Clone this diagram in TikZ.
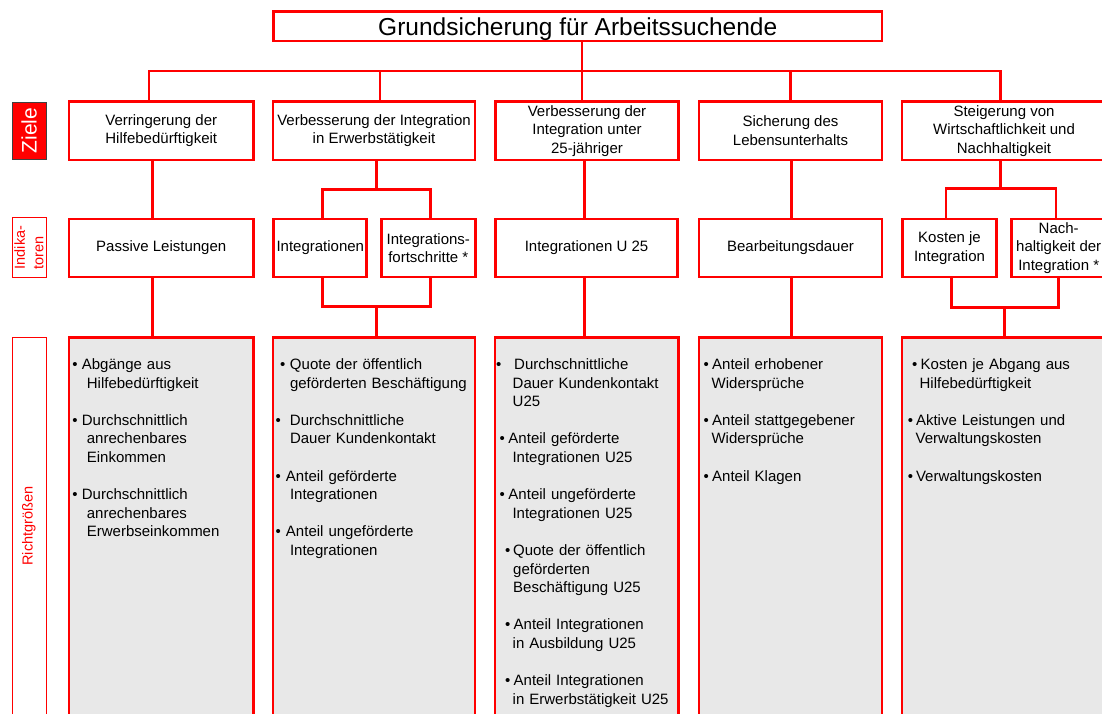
\documentclass[tikz,border=0pt]{standalone}
\usepackage{fontspec}
\setmainfont{Liberation Sans}

\definecolor{rggray}{RGB}{232,232,232}

\newcommand{\boxfont}{\fontsize{15}{18.6}\selectfont}
\newcommand{\listfont}{\boxfont\setlength{\parskip}{18.6pt}}
\newcommand{\titlefont}{\fontsize{24.5}{29}\selectfont}
\newcommand{\sidefont}{\fontsize{14.5}{18.5}\selectfont}
\newcommand{\zielefont}{\fontsize{21}{24}\selectfont}

% bullet item: [bullet shift][bullet box][hang] {text}
\NewDocumentCommand{\rg}{O{0pt} O{9pt} o m}{%
  \par\noindent
  \IfNoValueTF{#3}{\hangindent=\dimexpr#1+#2\relax}{\hangindent=#3\relax}%
  \hangafter=1
  \strut\hspace*{#1}\makebox[#2][l]{\textbullet}#4\par}

\tikzset{
  goal/.style={draw=red, line width=2.8pt, fill=white, inner sep=0pt,
    align=center, font=\boxfont, minimum height=58.5pt},
  indic/.style={goal, minimum height=58pt},
  rgbox/.style={draw=red, line width=2.8pt, fill=rggray, inner sep=0pt,
    minimum height=392.5pt},
  rglist/.style={anchor=north west, inner sep=0pt, text width=200pt,
    font=\listfont},
  conn/.style={draw=red, line width=2.8pt},
  sidebox/.style={draw=red, line width=1pt, fill=white, text=red, rotate=90,
    minimum height=34pt, inner sep=0pt, align=left, font=\sidefont}
}

\begin{document}
\begin{tikzpicture}[x=1pt,y=-1pt]
	\useasboundingbox (0,0) rectangle (1102,713);
	\fill[white] (0,0) rectangle (1102,713);
	\clip (0,0) rectangle (1102,713);

	% Titel
	\node[draw=red, line width=2.8pt, fill=white, inner sep=0pt, minimum width=608.5pt,
		minimum height=29.5pt, text depth=0pt, font=\titlefont] (title) at (577.75,26.25)
		{Grundsicherung für Arbeitssuchende};

	% Zeilenbeschriftung
	\node[draw=black!75, line width=0.8pt, fill=red, text=white, rotate=90, inner sep=0pt,
		minimum width=57pt, minimum height=34pt, font=\zielefont] (lz) at (29,130.5) {Ziele};
	\node[sidebox, minimum width=60pt] (li) at (29,247.5) {Indika-\\toren};
	\node[sidebox, minimum width=378pt] (lr) at (29,526) {Richtgrößen};

	% Ziele
	\node[goal, minimum width=184.5pt] (z1) at (161.25,130.75) {Verringerung der\\Hilfebedürftigkeit};
	\node[goal, minimum width=202pt] (z2) at (374,130.75) {Verbesserung der Integration\\in Erwerbstätigkeit};
	\node[goal, minimum width=183pt] (z3) at (587,130.75) {Verbesserung der\\Integration unter\\25-jähriger};
	\node[goal, minimum width=183pt] (z4) at (790.5,130.75) {Sicherung des\\Lebensunterhalts};
	\node[goal, minimum width=204pt] (z5) at (1004,130.75) {Steigerung von\\Wirtschaftlichkeit und\\Nachhaltigkeit};

	% Indikatoren
	\node[indic, minimum width=184.5pt] (i1) at (161.25,248) {Passive Leistungen};
	\node[indic, minimum width=93pt] (i2a) at (320.3,248) {Integrationen};
	\node[indic, minimum width=93.7pt] (i2b) at (428.3,248) {Integrations-\\fortschritte *};
	\node[indic, minimum width=182pt] (i3) at (586.5,248) {Integrationen U 25};
	\node[indic, minimum width=183pt] (i4) at (790.5,248) {Bearbeitungsdauer};
	\node[indic, minimum width=94.6pt] (i5a) at (949.5,248) {Kosten je\\Integration};
	\node[indic, minimum width=94.5pt] (i5b) at (1058.7,248) {Nach-\\haltigkeit der\\Integration *};

	% Richtgroessen
	\node[rgbox, minimum width=184.5pt] (r1) at (161.25,533.75) {};
	\node[rgbox, minimum width=202pt] (r2) at (374,533.75) {};
	\node[rgbox, minimum width=183.5pt] (r3) at (586.75,533.75) {};
	\node[rgbox, minimum width=183pt] (r4) at (790.5,533.75) {};
	\node[rgbox, minimum width=204pt] (r5) at (1004,533.75) {};

	\node[rglist] (l1) at (72.2,332) {%
		\rg[0pt][9.5pt][14.5pt]{Abgänge aus\newline Hilfebedürftigkeit}
		\rg[0pt][9.5pt][14.5pt]{Durchschnittlich\newline anrechenbares\newline Einkommen}
		\rg[0pt][9.5pt][14.5pt]{Durchschnittlich\newline anrechenbares\newline Erwerbseinkommen}};
	\node[rglist] (l2) at (275.3,332) {%
		\rg[4.5pt][10pt]{Quote der öffentlich\newline geförderten Beschäftigung}
		\rg[0pt][14.5pt]{Durchschnittliche\newline Dauer Kundenkontakt}
		\rg[0pt][10.5pt][14.5pt]{Anteil geförderte\newline Integrationen}
		\rg[0pt][10.5pt][14.5pt]{Anteil ungeförderte\newline Integrationen}};
	\node[rglist] (l3) at (496,332) {%
		\rg[0pt][18pt][16.5pt]{Durchschnittliche\newline Dauer Kundenkontakt\newline U25}
		\rg[3.3pt][9pt][16.3pt]{Anteil geförderte\newline Integrationen U25}
		\rg[3.3pt][9pt][16.3pt]{Anteil ungeförderte\newline Integrationen U25}
		\rg[9pt][8pt]{Quote der öffentlich\newline geförderten\newline Beschäftigung U25}
		\rg[9pt][8.5pt][16.5pt]{Anteil Integrationen\newline in Ausbildung U25}
		\rg[9pt][8.5pt][16.5pt]{Anteil Integrationen\newline in Erwerbstätigkeit U25}};
	\node[rglist] (l4) at (703.3,332) {%
		\rg[0pt][8.7pt][8.2pt]{Anteil erhobener\newline Widersprüche}
		\rg[0pt][8.7pt][8pt]{Anteil stattgegebener\newline Widersprüche}
		\rg[0pt][8.7pt]{Anteil Klagen}};
	\node[rglist] (l5) at (907.6,332) {%
		\rg[4.4pt][8.5pt][11.8pt]{Kosten je Abgang aus\newline Hilfebedürftigkeit}
		\rg[0pt][8.2pt][7.8pt]{Aktive Leistungen und\newline Verwaltungskosten}
		\rg[0pt][8.2pt]{Verwaltungskosten}};

	% Verbindungen oben
	\coordinate (b1) at (149,71);
	\coordinate (b2) at (380,71);
	\coordinate (b3) at (582,71);
	\coordinate (b4) at (790.5,71);
	\coordinate (b5) at (1000.7,71);
	\draw[conn] (z1.north -| b1) -- (b1) -- (b5) -- (z5.north -| b5);
	\draw[conn] (title.south -| b3) -- (z3.north -| b3);
	\draw[conn] (b2) -- (z2.north -| b2);
	\draw[conn] (b4) -- (z4.north -| b4);

	% Verbindungen unten
	\coordinate (m1) at (152.3,0);
	\draw[conn] (z1.south -| m1) -- (i1.north -| m1);
	\draw[conn] (i1.south -| m1) -- (r1.north -| m1);

	\coordinate (m2) at (376.5,189.3);
	\coordinate (n2) at (376.3,306.7);
	\draw[conn] (z2.south -| m2) -- (m2);
	\draw[conn] ([xshift=2.4pt]i2a.north) |- (m2) -| ([xshift=2.4pt]i2b.north);
	\draw[conn] ([xshift=2.4pt]i2a.south) |- (n2) -| ([xshift=2.4pt]i2b.south);
	\draw[conn] (n2) -- (r2.north -| n2);

	\coordinate (m3) at (584.3,0);
	\draw[conn] (z3.south -| m3) -- (i3.north -| m3);
	\draw[conn] (i3.south -| m3) -- (r3.north -| m3);

	\coordinate (m4) at (791.3,0);
	\draw[conn] (z4.south -| m4) -- (i4.north -| m4);
	\draw[conn] (i4.south -| m4) -- (r4.north -| m4);

	\coordinate (m5) at (1000.7,188.3);
	\coordinate (n5) at (1004.3,307.3);
	\draw[conn] (z5.south -| m5) -- (m5);
	\draw[conn] ([xshift=-3.5pt]i5a.north) |- (m5) -| ([xshift=-2.7pt]i5b.north);
	\draw[conn] ([xshift=2.2pt]i5a.south) |- (n5) -| (i5b.south);
	\draw[conn] (n5) -- (r5.north -| n5);
\end{tikzpicture}
\end{document}
